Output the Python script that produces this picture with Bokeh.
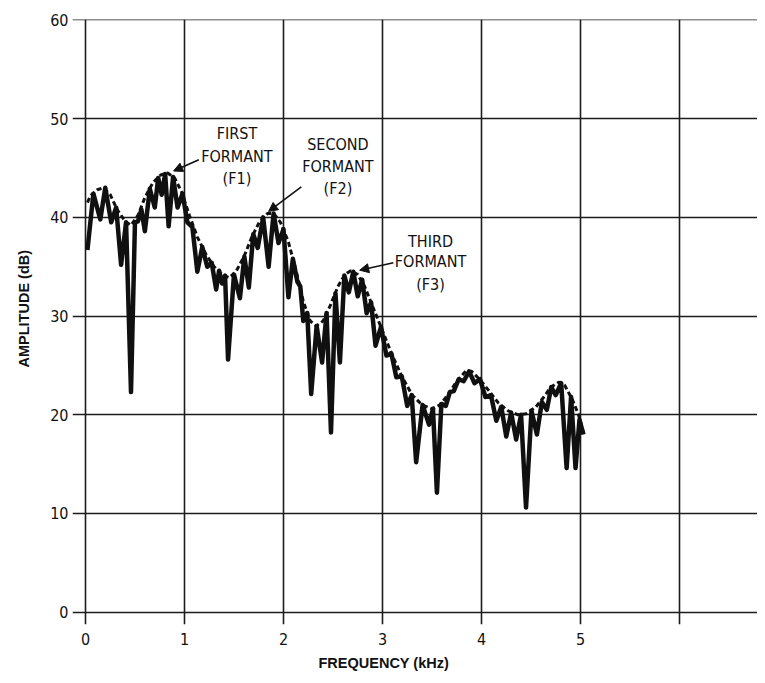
from bokeh.plotting import figure
from bokeh.models import FixedTicker, Arrow, NormalHead, ColumnDataSource, Range1d, Title
from bokeh.core.properties import value
from bokeh.embed import file_html
from bokeh.resources import INLINE

# ---- data ----
x_ticks = [0, 1, 2, 3, 4, 5]
x_grid = [0, 1, 2, 3, 4, 5, 6]
y_ticks = [0, 10, 20, 30, 40, 50, 60]

start_f, start_db = 0.02, 36.7
end_f, end_db = 5.03, 18.0

# harmonic peaks (kHz, dB)
peak_f = [0.08, 0.20, 0.31, 0.41, 0.50, 0.565, 0.65, 0.735, 0.805, 0.885,
          0.98, 1.08, 1.18, 1.275, 1.35, 1.41, 1.50, 1.605, 1.695, 1.795,
          1.90, 2.00, 2.095, 2.17, 2.24, 2.335, 2.435, 2.525, 2.615, 2.705,
          2.795, 2.885, 2.985, 3.09, 3.195, 3.295, 3.405, 3.51, 3.595, 3.68,
          3.77, 3.875, 3.985, 4.095, 4.20, 4.30, 4.40, 4.505, 4.61, 4.705,
          4.805, 4.905, 4.99]
peak_db = [42.4, 43.0, 41.0, 39.5, 39.5, 40.8, 42.9, 44.0, 44.4, 44.1,
           42.4, 39.0, 37.0, 35.4, 34.6, 34.1, 34.2, 36.0, 38.3, 40.0,
           40.4, 38.8, 35.8, 33.0, 30.3, 29.0, 30.3, 32.3, 34.1, 34.5,
           33.7, 31.4, 28.9, 26.2, 23.9, 22.0, 21.0, 20.6, 21.1, 22.3,
           23.6, 24.4, 23.6, 22.0, 20.8, 20.2, 20.0, 20.4, 21.3, 22.8,
           23.2, 21.8, 19.5]

# dips between harmonics (kHz, dB)
dip_f = [0.15, 0.26, 0.36, 0.46, 0.53, 0.60, 0.70, 0.77, 0.84, 0.93,
         1.03, 1.13, 1.23, 1.32, 1.38, 1.44, 1.56, 1.65, 1.74, 1.85,
         1.95, 2.05, 2.14, 2.20, 2.28, 2.39, 2.48, 2.57, 2.66, 2.75,
         2.84, 2.93, 3.04, 3.14, 3.25, 3.34, 3.47, 3.55, 3.64, 3.72,
         3.82, 3.93, 4.04, 4.15, 4.25, 4.35, 4.45, 4.56, 4.66, 4.75,
         4.86, 4.95]
dip_db = [39.8, 39.5, 35.2, 22.3, 39.6, 38.6, 41.0, 42.3, 39.1, 41.0,
          39.5, 34.5, 35.0, 32.7, 33.3, 25.6, 31.8, 32.9, 36.9, 35.0,
          37.4, 31.9, 33.5, 29.5, 22.1, 25.3, 18.2, 25.3, 32.4, 32.0,
          30.3, 27.0, 26.0, 23.8, 20.9, 15.2, 19.0, 12.1, 20.9, 22.4,
          23.4, 23.2, 21.8, 19.4, 17.8, 17.5, 10.6, 18.0, 20.5, 22.0,
          14.6, 14.6]

# smoothed envelope (kHz, dB)
env_f = [0.02, 0.05, 0.12, 0.18, 0.25, 0.32, 0.40, 0.46, 0.53, 0.60,
         0.68, 0.76, 0.83, 0.90, 0.97, 1.05, 1.13, 1.22, 1.30, 1.38,
         1.45, 1.52, 1.60, 1.68, 1.76, 1.84, 1.90, 1.97, 2.05, 2.13,
         2.20, 2.27, 2.33, 2.40, 2.47, 2.55, 2.62, 2.68, 2.75, 2.82,
         2.90, 3.00, 3.10, 3.20, 3.30, 3.40, 3.50, 3.58, 3.66, 3.75,
         3.84, 3.90, 3.98, 4.07, 4.17, 4.27, 4.37, 4.45, 4.55, 4.63,
         4.70, 4.78, 4.84, 4.92, 4.98, 5.03]
env_db = [41.5, 42.2, 42.8, 43.0, 42.3, 40.8, 39.6, 39.2, 40.2, 42.0,
          43.5, 44.3, 44.5, 44.0, 42.6, 40.2, 38.0, 36.2, 35.0, 34.2,
          33.9, 34.5, 36.0, 38.0, 39.6, 40.4, 40.4, 39.5, 37.5, 34.5,
          31.5, 29.5, 29.0, 29.5, 31.0, 33.0, 34.2, 34.6, 34.2, 33.0,
          31.0, 28.5, 26.0, 23.8, 22.0, 21.0, 20.6, 21.0, 22.0, 23.4,
          24.4, 24.4, 23.6, 22.5, 21.2, 20.4, 20.0, 20.1, 20.8, 21.8,
          22.8, 23.3, 23.0, 21.5, 20.0, 18.2]

labels = ["FIRST", "FORMANT", "(F1)",
          "SECOND", "FORMANT", "(F2)",
          "THIRD", "FORMANT", "(F3)"]
label_f = [1.53, 1.53, 1.53, 2.55, 2.55, 2.55, 3.485, 3.485, 3.485]
label_db = [48.5, 46.2, 43.9, 47.4, 45.2, 42.9, 37.6, 35.5, 33.2]

# arrows: tail (f, dB) -> tip (f, dB)
arrow_tail_f = [1.145, 2.18, 3.11]
arrow_tail_db = [45.85, 43.1, 35.4]
arrow_tip_f = [0.89, 1.85, 2.77]
arrow_tip_db = [44.7, 40.6, 34.65]

x_title = "FREQUENCY (kHz)"
y_title = "AMPLITUDE (dB)"

# ---- assemble spectrum path ----
spec_f = [start_f]
spec_db = [start_db]
for i in range(len(dip_f)):
    spec_f += [peak_f[i], dip_f[i]]
    spec_db += [peak_db[i], dip_db[i]]
spec_f += [peak_f[-1], end_f]
spec_db += [peak_db[-1], end_db]

NARROW = "DejaVu Sans Condensed"
INK = "#111111"

p = figure(width=757, height=675,
           x_range=Range1d(-0.131, 6.788), y_range=Range1d(-1.25, 60.05),
           output_backend="svg", toolbar_location=None,
           min_border_left=72, min_border_right=0,
           min_border_top=19, min_border_bottom=51)
p.outline_line_color = None
p.background_fill_color = "white"
p.border_fill_color = "white"

p.xaxis.ticker = FixedTicker(ticks=x_ticks)
p.yaxis.ticker = FixedTicker(ticks=y_ticks)
p.xgrid.ticker = FixedTicker(ticks=x_grid)
p.ygrid.ticker = FixedTicker(ticks=y_ticks)
for g in (p.xgrid[0], p.ygrid[0]):
    g.grid_line_color = "#1c1c1c"
    g.grid_line_width = 1.6
    g.grid_line_alpha = 1.0

for ax in (p.xaxis[0], p.yaxis[0]):
    ax.axis_line_color = None
    ax.major_tick_line_color = None
    ax.minor_tick_line_color = None
    ax.major_tick_out = 0
    ax.major_tick_in = 0
    ax.major_label_text_font = NARROW
    ax.major_label_text_font_size = "16px"
    ax.major_label_text_color = INK
p.xaxis.major_label_standoff = 8
p.yaxis.major_label_standoff = 4

p.line(spec_f, spec_db, line_color="#101010", line_width=4.5, line_join="round")
p.line(env_f, env_db, line_color="#101010", line_width=3, line_dash="5 3")

src = ColumnDataSource(dict(x=label_f, y=label_db, t=labels))
p.text(x="x", y="y", text="t", source=src, text_align="center",
       text_baseline="middle", text_font=value(NARROW),
       text_font_size="16px", text_color=INK)

for tf, tdb, hf, hdb in zip(arrow_tail_f, arrow_tail_db, arrow_tip_f, arrow_tip_db):
    p.add_layout(Arrow(end=NormalHead(size=9, fill_color=INK, line_color=INK),
                       x_start=tf, y_start=tdb, x_end=hf, y_end=hdb,
                       line_width=1.6, line_color=INK))

# axis titles, placed as in the original (centred on the 0-6 / 0-60 grid)
p.add_layout(Title(text=x_title, align="left", offset=246, standoff=10,
                   vertical_align="bottom",
                   text_font="Liberation Sans", text_font_style="bold",
                   text_font_size="14.5px", text_color=INK), "below")
p.add_layout(Title(text=y_title, align="left", offset=257, standoff=28,
                   vertical_align="top",
                   text_font="Liberation Sans", text_font_style="bold",
                   text_font_size="14.5px", text_color=INK), "left")

open("out.html", "w").write(file_html(p, INLINE))
